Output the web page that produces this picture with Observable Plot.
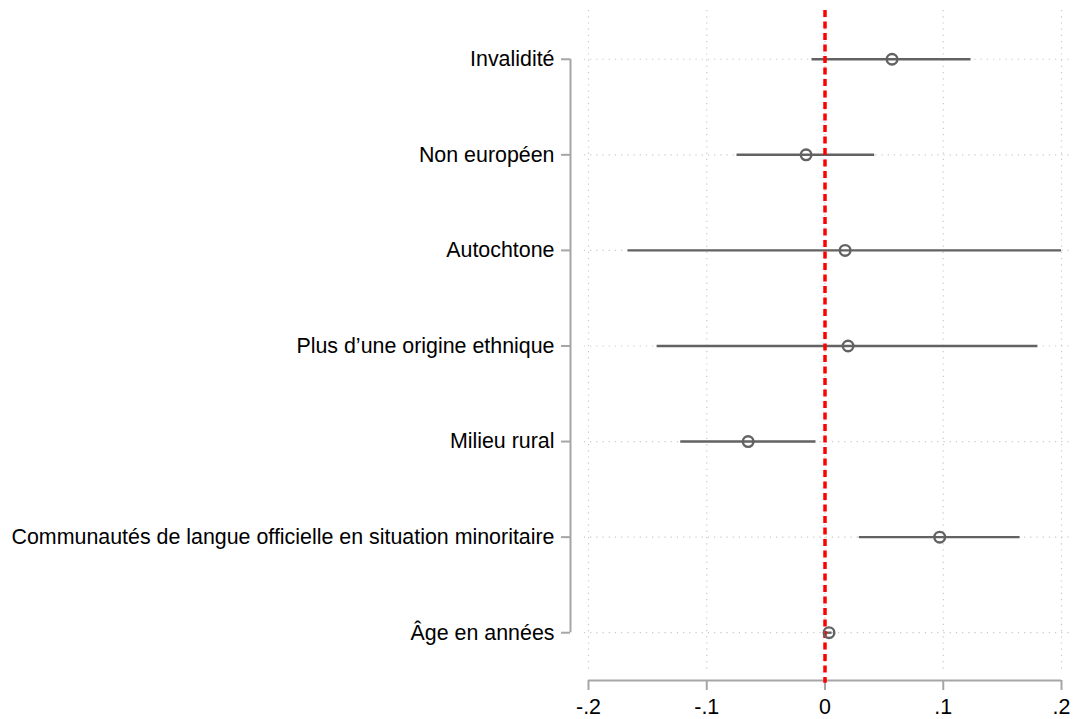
<!DOCTYPE html>
<html><head><meta charset="utf-8">
<script src="https://cdn.jsdelivr.net/npm/d3@7"></script>
<script src="https://cdn.jsdelivr.net/npm/@observablehq/plot@0.6"></script>
<style>body{margin:0;background:#fff}</style>
</head><body><div id="chart"></div>
<script>
const categories = ["Invalidité","Non européen","Autochtone","Plus d\u2019une origine ethnique","Milieu rural","Communautés de langue officielle en situation minoritaire","Âge en années"];
const estimates = [0.0567, -0.016, 0.017, 0.0195, -0.065, 0.097, 0.0034];
const lower = [-0.011, -0.0744, -0.1666, -0.142, -0.122, 0.029, 0.0010];
const upper = [0.1235, 0.042, 0.200, 0.180, -0.0076, 0.165, 0.0060];
const xTicks = [-0.2, -0.1, 0, 0.1, 0.2];

const data = categories.map((c, i) => ({cat: c, i, est: estimates[i], lo: lower[i], hi: upper[i]}));
const fmt = d => d === 0 ? "0" : (d < 0 ? "-" : "") + d3.format(".1f")(Math.abs(d)).replace("0.", ".");
const font = "Liberation Sans, Arial, sans-serif";
const gridColor = "#c8c8c8";
const axisColor = "#a6a6a6";

const chart = Plot.plot({
  width: 1074, height: 719,
  marginLeft: 588, marginRight: 13, marginTop: 10, marginBottom: 39,
  style: {fontFamily: font, fontSize: "21.4px", color: "#000", background: "#fff", overflow: "visible"},
  x: {domain: [-0.2, 0.2]},
  y: {domain: [-0.51, 6.5], reverse: true},
  marks: [
    Plot.ruleX(xTicks, {x: d => d, y1: -0.51, y2: 6.43, stroke: gridColor, strokeWidth: 1.2, strokeDasharray: "1.2,5"}),
    Plot.ruleY(data, {y: "i", x1: -0.2035, x2: 0.208, stroke: gridColor, strokeWidth: 1.2, strokeDasharray: "1.2,5", clip: false}),
    Plot.ruleY([6.5], {x1: -0.2, x2: 0.2, stroke: axisColor, strokeWidth: 2}),
    Plot.ruleX([-0.2], {y1: 0, y2: 6, dx: -18, stroke: axisColor, strokeWidth: 2}),
    Plot.axisX(xTicks, {anchor: "bottom", tickSize: 10, tickFormat: fmt, stroke: axisColor, strokeWidth: 2, fill: "#000", fontSize: 21.4, tickPadding: 8, label: null}),
    Plot.axisY(data.map(d => d.i), {anchor: "left", tickSize: 9, dx: -18, tickFormat: i => categories[i], stroke: axisColor, strokeWidth: 2, fill: "#000", fontSize: 21.4, tickPadding: 7, label: null}),
    Plot.ruleY(data, {y: "i", x1: "lo", x2: "hi", stroke: "#626262", strokeWidth: 2.4}),
    Plot.ruleX([0], {y1: -0.51, y2: 6.53, stroke: "#ff0000", strokeWidth: 3.5, strokeDasharray: "7,4.5"}),
    Plot.dot(data, {x: "est", y: "i", r: 5.3, stroke: "#626262", strokeWidth: 2.4, fill: "none"})
  ]
});
document.getElementById("chart").appendChild(chart);
</script>
</body></html>
